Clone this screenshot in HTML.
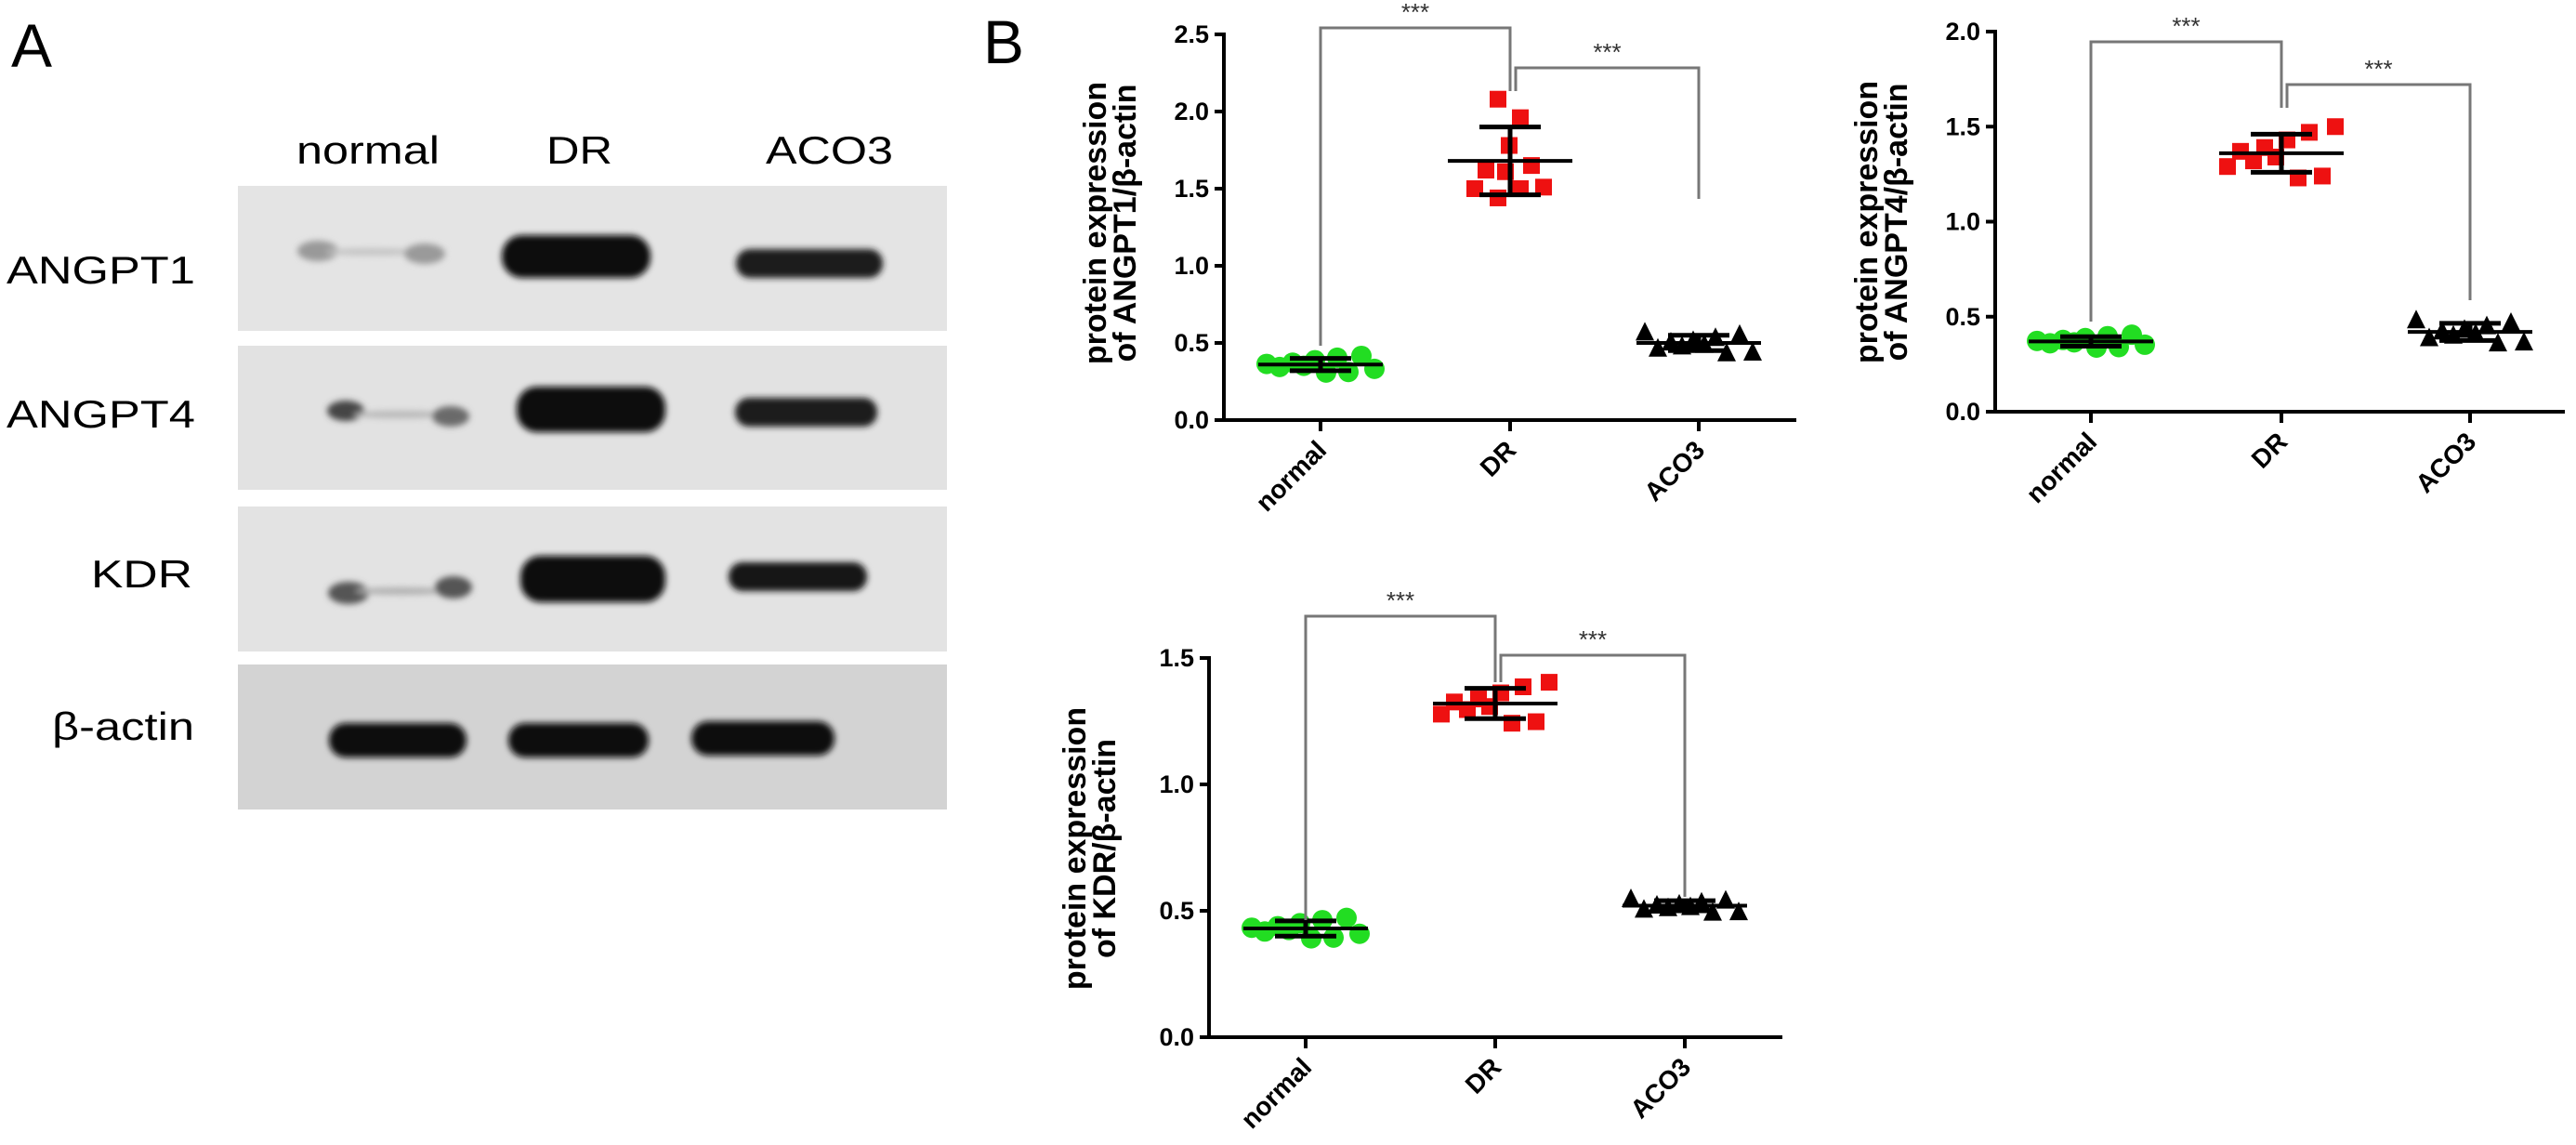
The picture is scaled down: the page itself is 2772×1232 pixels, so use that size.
<!DOCTYPE html>
<html><head><meta charset="utf-8">
<style>
html,body{margin:0;padding:0;background:#fff;}
svg{display:block;}
text{font-family:"Liberation Sans",Arial,sans-serif;}
</style></head>
<body>
<svg id="s" width="2772" height="1232" viewBox="0 0 2772 1232" xmlns="http://www.w3.org/2000/svg">
<defs>
<filter id="b2" x="-30%" y="-80%" width="160%" height="260%"><feGaussianBlur stdDeviation="3.5"/></filter>
</defs>
<!-- Panel A -->
<text x="12" y="72" font-size="66">A</text>
<text x="319" y="176" font-size="42" textLength="154" lengthAdjust="spacingAndGlyphs">normal</text>
<text x="588" y="176" font-size="42" textLength="71" lengthAdjust="spacingAndGlyphs">DR</text>
<text x="824" y="176" font-size="42" textLength="137" lengthAdjust="spacingAndGlyphs">ACO3</text>
<text x="7" y="305" font-size="42" textLength="203" lengthAdjust="spacingAndGlyphs">ANGPT1</text>
<text x="7" y="460" font-size="42" textLength="203" lengthAdjust="spacingAndGlyphs">ANGPT4</text>
<text x="98" y="632" font-size="42" textLength="109" lengthAdjust="spacingAndGlyphs">KDR</text>
<text x="56" y="796" font-size="42" textLength="153" lengthAdjust="spacingAndGlyphs">β-actin</text>
<rect x="256" y="200" width="763" height="156" fill="#e4e4e4"/>
<rect x="256" y="372" width="763" height="155" fill="#e2e2e2"/>
<rect x="256" y="545" width="763" height="156" fill="#e3e3e3"/>
<rect x="256" y="715" width="763" height="156" fill="#d3d3d3"/>
<g filter="url(#b2)" fill="#111">
<ellipse cx="342" cy="270" rx="22" ry="11" fill="#999"/>
<ellipse cx="400" cy="271" rx="50" ry="4" fill="#c4c4c4"/>
<ellipse cx="457" cy="273" rx="22" ry="11" fill="#9a9a9a"/>
<rect x="540" y="253" width="160" height="46" rx="22" fill="#0a0a0a"/>
<rect x="792" y="268" width="158" height="31" rx="15" fill="#1a1a1a"/>
<ellipse cx="372" cy="442" rx="20" ry="11" fill="#444"/>
<ellipse cx="430" cy="446" rx="50" ry="4" fill="#b8b8b8"/>
<ellipse cx="485" cy="448" rx="20" ry="11" fill="#6a6a6a"/>
<rect x="556" y="416" width="160" height="49" rx="22" fill="#0a0a0a"/>
<rect x="791" y="428" width="153" height="31" rx="15" fill="#1a1a1a"/>
<ellipse cx="375" cy="638" rx="22" ry="12" fill="#555"/>
<ellipse cx="432" cy="636" rx="50" ry="4" fill="#b0b0b0"/>
<ellipse cx="488" cy="632" rx="20" ry="12" fill="#555"/>
<rect x="560" y="598" width="156" height="50" rx="22" fill="#0d0d0d"/>
<rect x="784" y="605" width="149" height="31" rx="15" fill="#141414"/>
<rect x="354" y="778" width="148" height="37" rx="18" fill="#080808"/>
<rect x="547" y="778" width="151" height="37" rx="18" fill="#080808"/>
<rect x="744" y="776" width="154" height="37" rx="18" fill="#080808"/>
</g>
<text x="1058" y="68" font-size="66">B</text>
<g id="plots"></g>
</svg>
<script>
var NS="http://www.w3.org/2000/svg",G=document.getElementById("plots");
function el(t,a,txt){var e=document.createElementNS(NS,t);for(var k in a)e.setAttribute(k,a[k]);if(txt!=null)e.textContent=txt;G.appendChild(e);return e;}
var offs=[-58,-44,-30,-18,-6,6,18,30,44,58];
var vn=[0.1,-1.2,0.7,-0.4,1.4,-1.3,0.3,-0.7,1.1,-0.2];
function plot(c){
 var ax=c.ax,y0=c.y0,pp=c.pp,xe=c.xe;
 function Y(v){return y0-v*pp;}
 for(var g=0;g<3;g++){
  var cx=c.cx[g],m=c.m[g],sd=c.sd[g];
  var pts=[];
  if(c.pts&&c.pts[g]){pts=c.pts[g];}
  else for(var i=0;i<10;i++)pts.push([offs[i]*c.spread[g],m+vn[(i*3+g*7)%10]*sd]);
  for(var i=0;i<pts.length;i++){
   var x=cx+pts[i][0],y=Y(pts[i][1]);
   if(g==0)el("circle",{cx:x,cy:y,r:11,fill:"#22dd22"});
   else if(g==1)el("rect",{x:x-9,y:y-9,width:18,height:18,fill:"#ee1111"});
   else el("polygon",{points:(x-10)+","+(y+9)+" "+(x+10)+","+(y+9)+" "+x+","+(y-11),fill:"#000"});
  }
  el("line",{x1:cx-67,x2:cx+67,y1:Y(m),y2:Y(m),stroke:"#000","stroke-width":4});
  el("line",{x1:cx-33,x2:cx+33,y1:Y(m+sd),y2:Y(m+sd),stroke:"#000","stroke-width":5});
  el("line",{x1:cx-33,x2:cx+33,y1:Y(m-sd),y2:Y(m-sd),stroke:"#000","stroke-width":5});
  el("line",{x1:cx,x2:cx,y1:Y(m+sd),y2:Y(m-sd),stroke:"#000","stroke-width":5});
 }
 el("line",{x1:ax,x2:ax,y1:Y(c.max)-2,y2:y0+2,stroke:"#000","stroke-width":4});
 el("line",{x1:ax-8,x2:xe,y1:y0,y2:y0,stroke:"#000","stroke-width":4});
 for(var v=0;v<=c.max+1e-6;v+=0.5){
  el("line",{x1:ax-10,x2:ax,y1:Y(v),y2:Y(v),stroke:"#000","stroke-width":4});
  el("text",{x:ax-16,y:Y(v)+9,"font-size":27,"font-weight":"bold","text-anchor":"end"},v.toFixed(1));
 }
 var labs=["normal","DR","ACO3"];
 for(var g=0;g<3;g++){
  var cx=c.cx[g];
  el("line",{x1:cx,x2:cx,y1:y0,y2:y0+12,stroke:"#000","stroke-width":4});
  el("text",{x:0,y:0,"font-size":28,"font-weight":"bold","text-anchor":"end",transform:"translate("+(cx+8)+","+(y0+34)+") rotate(-45)"},labs[g]);
 }
 var lx=c.lx,ly=c.ly;
 el("text",{x:0,y:0,"font-size":34,"font-weight":"bold","text-anchor":"middle",transform:"translate("+(lx+12)+","+ly+") rotate(-90)"},"protein expression");
 el("text",{x:0,y:0,"font-size":34,"font-weight":"bold","text-anchor":"middle",transform:"translate("+(lx+44)+","+ly+") rotate(-90)"},"of "+c.name+"/β-actin");
 var b=c.br,st={fill:"none",stroke:"#777","stroke-width":3};
 el("polyline",Object.assign({points:c.cx[0]+","+b[1]+" "+c.cx[0]+","+b[0]+" "+c.cx[1]+","+b[0]+" "+c.cx[1]+","+b[2]},st));
 el("polyline",Object.assign({points:(c.cx[1]+6)+","+b[2]+" "+(c.cx[1]+6)+","+b[3]+" "+c.cx[2]+","+b[3]+" "+c.cx[2]+","+b[4]},st));
 el("text",{x:(c.cx[0]+c.cx[1])/2,y:b[0]-8,"font-size":26,"text-anchor":"middle",fill:"#333"},"***");
 el("text",{x:(c.cx[1]+c.cx[2])/2+3,y:b[3]-8,"font-size":26,"text-anchor":"middle",fill:"#333"},"***");
}
plot({ax:1317,y0:452,pp:166,xe:1933,max:2.5,cx:[1421,1625,1828],m:[0.36,1.68,0.50],sd:[0.04,0.22,0.05],spread:[1,0.85,1],
 pts:[null,[[-13,2.08],[11,1.96],[-1,1.78],[-26,1.62],[23,1.65],[-5,1.61],[-38,1.50],[11,1.50],[36,1.51],[-13,1.44]],null],
 lx:1178,ly:240,name:"ANGPT1",br:[30,372,98,73,214]});
plot({ax:2147,y0:443,pp:204.5,xe:2760,max:2.0,cx:[2250,2455,2658],m:[0.37,1.36,0.42],sd:[0.025,0.10,0.045],spread:[1,1,1],
 lx:2008,ly:239,name:"ANGPT4",br:[45,346,116,91,323]});
plot({ax:1301,y0:1116,pp:272,xe:1918,max:1.5,cx:[1405,1609,1813],m:[0.43,1.32,0.52],sd:[0.03,0.06,0.02],spread:[1,1,1],
 lx:1156,ly:913,name:"KDR",br:[663,990,734,705,965]});
</script>
</body></html>
